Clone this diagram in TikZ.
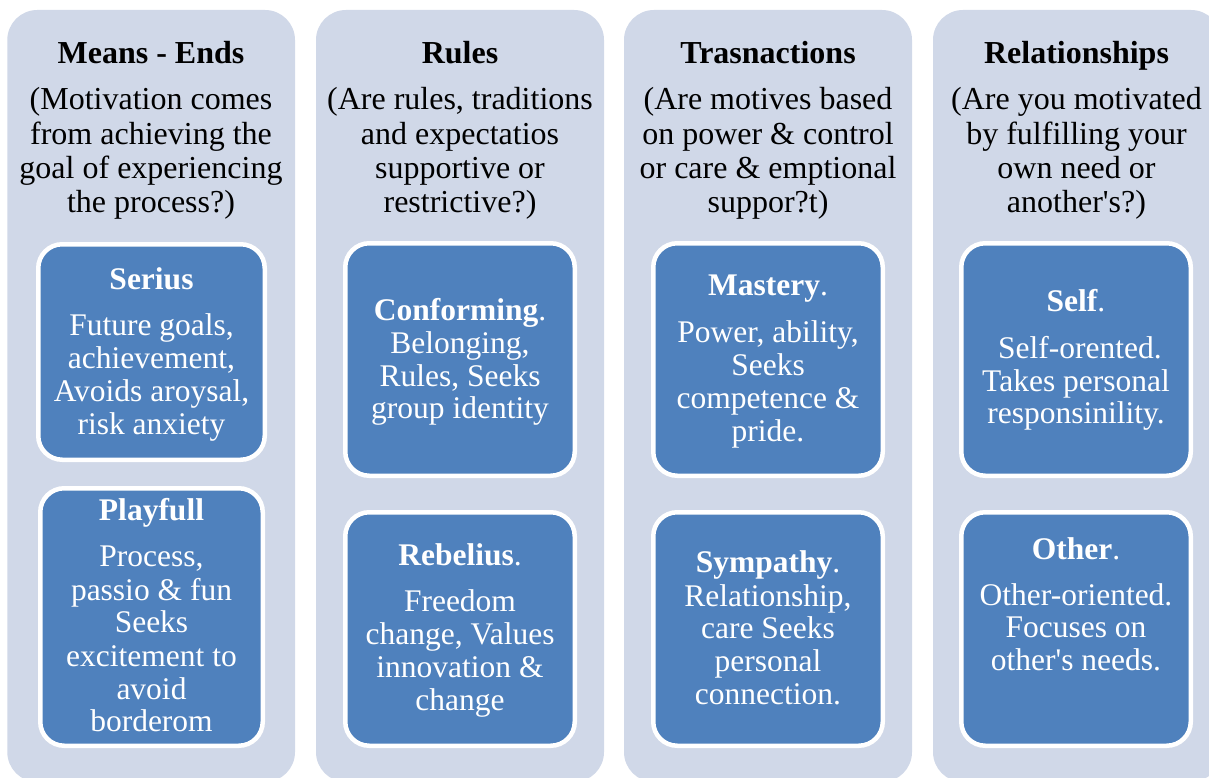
\documentclass[tikz,border=0pt]{standalone}
\usepackage{fontspec}
\setmainfont[Ligatures=TeXOff]{Liberation Serif}
\definecolor{panel}{HTML}{D0D8E8}
\definecolor{boxblue}{HTML}{4F81BD}
\begin{document}
\begin{tikzpicture}[x=1pt,y=-1pt,
  panelbox/.style={fill=panel, draw=none, rounded corners=30pt},
  bluebox/.style={fill=boxblue, draw=white, line width=4.5pt, rounded corners=24pt},
  ptitle/.style={anchor=base, inner sep=0pt, font=\fontsize{32}{34}\selectfont\bfseries},
  ptext/.style={anchor=base, inner sep=0pt, font=\fontsize{32}{34}\selectfont},
  btitle/.style={anchor=base, inner sep=0pt, text=white, font=\fontsize{31.5}{33}\selectfont\bfseries},
  btext/.style={anchor=base, inner sep=0pt, text=white, font=\fontsize{31.5}{33}\selectfont}]
\useasboundingbox (0,0) rectangle (1209,778);
\fill[white] (0,0) rectangle (1209,778);
% panels
\path[panelbox] (7.3,10) rectangle (295,782);
\path[panelbox] (316,10) rectangle (604,782);
\path[panelbox] (624,10) rectangle (912,782);
\path[panelbox] (933,10) rectangle (1221,782);
% blue boxes
\path[bluebox] (38.25,244.25) rectangle (264.75,459.75);
\path[bluebox] (40.25,488.25) rectangle (262.75,745.75);
\path[bluebox] (345.25,243.25) rectangle (574.75,475.75);
\path[bluebox] (345.25,512.25) rectangle (574.75,745.75);
\path[bluebox] (653.25,243.25) rectangle (882.75,475.75);
\path[bluebox] (653.25,512.25) rectangle (882.75,745.75);
\path[bluebox] (961.25,243.25) rectangle (1190.75,475.75);
\path[bluebox] (961.25,512.25) rectangle (1190.75,745.75);

% column 1 header
\node[ptitle] (h1) at (151,63.5) {Means - Ends};
\node[ptext] (d11) at (151,110) {(Motivation comes};
\node[ptext] (d12) at (151,144.2) {from achieving the};
\node[ptext] (d13) at (151,178.4) {goal of experiencing};
\node[ptext] (d14) at (151,212.6) {the process?)};
% column 2 header
\node[ptitle] (h2) at (460,63.5) {Rules};
\node[ptext] (d21) at (460,110) {(Are rules, traditions};
\node[ptext] (d22) at (460,144.2) {and expectatios};
\node[ptext] (d23) at (460,178.4) {supportive or};
\node[ptext] (d24) at (460,212.6) {restrictive?)};
% column 3 header
\node[ptitle] (h3) at (768,63.5) {Trasnactions};
\node[ptext] (d31) at (768,110) {(Are motives based};
\node[ptext] (d32) at (768,144.2) {on power \& control};
\node[ptext] (d33) at (768,178.4) {or care \& emptional};
\node[ptext] (d34) at (768,212.6) {suppor?t)};
% column 4 header
\node[ptitle] (h4) at (1076.5,63.5) {Relationships};
\node[ptext] (d41) at (1076.5,110) {(Are you motivated};
\node[ptext] (d42) at (1076.5,144.2) {by fulfilling your};
\node[ptext] (d43) at (1076.5,178.4) {own need or};
\node[ptext] (d44) at (1076.5,212.6) {another's?)};

% Serius
\node[btitle] (s0) at (151.5,289) {Serius};
\node[btext] (s1) at (151.5,335) {Future goals,};
\node[btext] (s2) at (151.5,368) {achievement,};
\node[btext] (s3) at (151.5,401) {Avoids aroysal,};
\node[btext] (s4) at (151.5,434) {risk anxiety};
% Playfull
\node[btitle] (p0) at (151.5,520) {Playfull};
\node[btext] (p1) at (151.5,566.7) {Process,};
\node[btext] (p2) at (151.5,600) {passio \& fun};
\node[btext] (p3) at (151.5,632.7) {Seeks};
\node[btext] (p4) at (151.5,666) {excitement to};
\node[btext] (p5) at (151.5,699) {avoid};
\node[btext] (p6) at (151.5,731.7) {borderom};
% Conforming
\node[btext] (c0) at (460,320) {{\bfseries Conforming}.};
\node[btext] (c1) at (460,353.3) {Belonging,};
\node[btext] (c2) at (460,386) {Rules, Seeks};
\node[btext] (c3) at (460,418.7) {group identity};
% Rebelius
\node[btext] (r0) at (460,565.7) {{\bfseries Rebelius}.};
\node[btext] (r1) at (460,611.7) {Freedom};
\node[btext] (r2) at (460,644.3) {change, Values};
\node[btext] (r3) at (460,677) {innovation \&};
\node[btext] (r4) at (460,710) {change};
% Mastery
\node[btext] (m0) at (768,295.7) {{\bfseries Mastery}.};
\node[btext] (m1) at (768,342.7) {Power, ability,};
\node[btext] (m2) at (768,375.5) {Seeks};
\node[btext] (m3) at (768,408.2) {competence \&};
\node[btext] (m4) at (768,441) {pride.};
% Sympathy
\node[btext] (y0) at (768,572.7) {{\bfseries Sympathy}.};
\node[btext] (y1) at (768,606) {Relationship,};
\node[btext] (y2) at (768,638.5) {care Seeks};
\node[btext] (y3) at (768,671.5) {personal};
\node[btext] (y4) at (768,704) {connection.};
% Self
\node[btext] (f0) at (1076,311.7) {{\bfseries Self}.};
\node[btext] (f1) at (1076,358.3) {\hspace*{8pt}Self-orented.};
\node[btext] (f2) at (1076,391) {Takes personal};
\node[btext] (f3) at (1076,423.5) {responsinility.};
% Other
\node[btext] (o0) at (1076,559.3) {{\bfseries Other}.};
\node[btext] (o1) at (1076,605) {Other-oriented.};
\node[btext] (o2) at (1076,637.8) {Focuses on};
\node[btext] (o3) at (1076,670.5) {other's needs.};
\end{tikzpicture}
\end{document}
